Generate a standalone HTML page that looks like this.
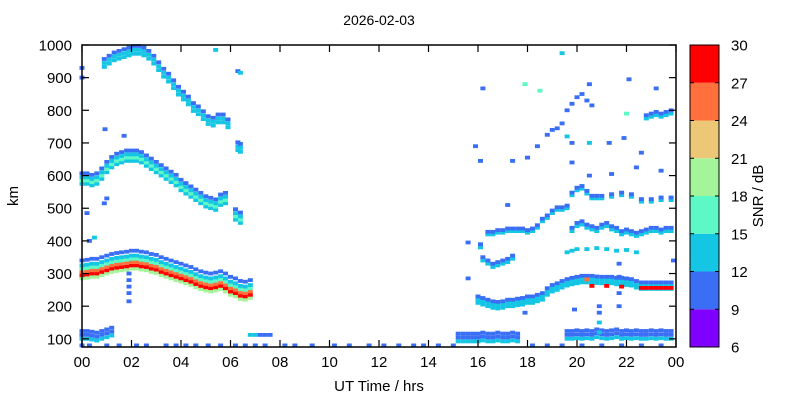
<!DOCTYPE html>
<html><head><meta charset="utf-8"><style>
html,body{margin:0;padding:0;background:#fff;}
svg{display:block;font-family:"Liberation Sans",sans-serif;}
</style></head><body>
<svg id="chart" width="800" height="400" viewBox="0 0 800 400" xmlns="http://www.w3.org/2000/svg">
<rect width="800" height="400" fill="#fff"/>
<text x="379" y="25" font-size="14" text-anchor="middle">2026-02-03</text>
<g id="cells"></g>
<g id="axes"></g>
<text x="379" y="391" font-size="15" text-anchor="middle">UT Time / hrs</text>
<text x="18" y="196" font-size="15" text-anchor="middle" transform="rotate(-90 18 196)">km</text>
<g id="cbar"></g>
<text x="763" y="196" font-size="15" text-anchor="middle" transform="rotate(-90 763 196)">SNR / dB</text>
</svg>
<script>
// ---- data ----
const xTickLabels = ["00","02","04","06","08","10","12","14","16","18","20","22","00"];
const yTicks = [100,200,300,400,500,600,700,800,900,1000];
const snrTicks = [6,9,12,15,18,21,24,27,30];
const snrColors = ["#7f00ff","#3a6ff5","#14c6e4","#5cf8c6","#a4f59a","#ecc776","#ff703c","#ff0000"];

const bandMainHours = [0,0.2,0.4,0.6,0.8,1.0,1.2,1.4,1.6,1.8,2.0,2.2,2.4,2.6,2.8,3.0,3.2,3.4,3.6,3.8,4.0,4.2,4.4,4.6,4.8,5.0,5.2,5.4,5.6,5.8,6.0,6.2,6.4,6.6,6.8];
const bandMainKm = [295,297,300,300,305,310,315,318,320,322,325,325,322,320,315,312,305,300,295,290,285,280,275,268,262,258,255,258,262,255,245,240,232,230,235];
const bandMainRows = [[-10,19],[0,28],[10,24],[20,16],[30,13],[45,10]];

const band2Hours = [0,0.2,0.4,0.6,0.8,1.0,1.2,1.4,1.6,1.8,2.0,2.2,2.4,2.6,2.8,3.0,3.2,3.4,3.6,3.8,4.0,4.2,4.4,4.6,4.8,5.0,5.2,5.4,5.6,5.8,6.2,6.4];
const band2Km = [585,585,580,585,600,620,635,645,650,655,655,655,650,640,630,620,610,600,590,580,565,555,545,535,525,515,510,505,520,525,475,465];
const band2Rows = [[-10,14],[0,17],[10,13],[22,10]];

const band3Hours = [0.9,1.1,1.3,1.5,1.7,1.9,2.1,2.3,2.5,2.7,2.9,3.1,3.3,3.5,3.7,3.9,4.1,4.3,4.5,4.7,4.9,5.1,5.3,5.5,5.7,5.9,6.3,6.4];
const band3Km = [945,955,965,970,975,980,985,985,980,970,955,935,915,900,880,860,845,830,810,800,785,770,765,775,775,760,690,685];
const band3Rows = [[-12,12],[0,14],[12,10]];

const bandNightFHours = [16.0,16.2,16.4,16.6,16.8,17.0,17.2,17.4,17.6,17.8,18.0,18.2,18.4,18.6,18.8,19.0,19.2,19.4,19.6,19.8,20.0,20.2,20.4,20.6,20.8,21.0,21.2,21.4,21.6,21.8,22.0,22.2,22.4,22.6,22.8,23.0,23.2,23.4,23.6,23.8];
const bandNightFKm = [215,210,205,200,198,200,205,205,208,210,215,215,220,225,240,250,255,262,268,272,275,278,278,278,276,275,275,275,272,272,270,268,262,258,258,258,258,258,258,258];
const bandNightFRows = [[-5,13],[5,12],[15,10]];

const bandEDayHours = [0,0.2,0.4,0.6,0.8,1.0,1.2];
const bandEDayKm = [100,100,98,95,100,105,110];
const bandEDayRows = [[0,14],[12,11],[24,10]];

const bandENightHours = [15.2,15.4,15.6,15.8,16.0,16.2,16.4,16.6,16.8,17.0,17.2,17.4,17.6,19.6,19.8,20.0,20.2,20.4,20.6,20.8,21.0,21.2,21.4,21.6,21.8,22.0,22.2,22.4,22.6,22.8,23.0,23.2,23.4,23.6,23.8];
const bandENightKm = [92,92,92,92,92,95,92,92,95,92,92,95,92,100,100,102,100,102,100,105,102,100,102,105,100,102,100,102,100,100,102,100,102,100,100];
const bandENightRows = [[0,12],[12,10],[24,10]];

const band420Hours = [16.4,16.6,16.8,17.0,17.2,17.4,17.6,17.8,18.0,18.2,18.4,18.6,18.8,19.0,19.2,19.4,19.6,19.8,20.0,20.2,20.4,20.6,20.8,21.0,21.4,21.8,22.2,22.6,23.0,23.4,23.8];
const band420Km = [420,420,425,425,430,430,430,430,425,430,440,460,470,485,495,495,500,540,555,560,545,530,530,530,535,540,535,520,520,525,525];
const band420Rows = [[0,13],[8,10]];

const band440Hours = [19.8,20.0,20.2,20.4,20.6,20.8,21.0,21.2,21.4,21.6,21.8,22.0,22.2,22.4,22.6,22.8,23.0,23.2,23.4,23.6,23.8];
const band440Km = [430,445,450,440,435,430,440,445,435,430,420,425,420,415,420,425,430,430,425,430,430];
const band440Rows = [[0,12],[10,10]];

const band370Hours = [19.6,19.8,20.0,20.4,20.8,21.2,21.6,22.0,22.4];
const band370Km = [365,370,375,375,378,375,370,372,365];
const band370Rows = [[0,12]];

const bandFanHours = [16.1,16.2,16.4,16.6,16.8,17.0,17.2,17.4];
const bandFanKm = [380,340,330,320,325,330,335,345];
const bandFanRows = [[0,13],[10,10]];

const bandUpperHours = [18.0,18.4,18.8,19.0,19.2,19.4,19.6,19.8,20.0,20.2,20.4,20.6];
const bandUpperKm = [655,690,725,740,745,760,800,820,840,850,830,815];
const bandUpperRows = [[0,11]];

const band780Hours = [22.8,23.0,23.2,23.4,23.6,23.8];
const band780Km = [775,780,785,780,785,790];
const band780Rows = [[0,13],[10,10]];

const baselineHours = [0,0.3,1.0,1.5,2.2,2.6,3.4,3.8,4.2,4.6,5.1,5.6,6.2,6.6,7.0,7.4,8.2,8.6,9.3,10.2,10.8,11.6,12.2,12.8,13.4,13.8,14.4,15.0,18.2,18.8,19.4,20.2,21.0,21.8,22.6,23.4];

const scatterEchoes = [
 [20.6,262,28],[21.2,262,28],[21.8,260,28],[22.6,256,28],[22.8,256,28],[23.0,256,28],[23.2,256,28],[23.4,256,28],[23.6,256,28],[23.8,256,28],[20.4,282,25],
 [6.8,112,13],[7.0,112,12],[7.2,112,10],[7.4,112,10],[7.6,112,10],
 [0.93,742,10],[1.7,722,10],[6.3,920,10],[6.4,915,12],[0.2,485,10],[0.9,515,10],[1.0,530,10],
 [1.9,300,10],[1.9,280,10],[1.9,260,10],[1.9,240,10],[1.9,215,10],[0.3,400,10],[0.5,410,12],[0.0,930,10],[0.0,900,10],[5.4,985,13],
 [19.4,975,13],[16.2,867,10],[17.9,880,16],[18.5,860,16],[22.1,895,10],[23.2,867,10],[20.5,880,10],
 [15.9,690,10],[16.1,645,10],[17.4,645,10],[19.8,640,10],[19.8,700,10],[20.5,700,12],[21.3,700,10],[21.9,715,10],
 [22.6,670,10],[23.4,615,10],[20.5,600,10],[21.4,605,10],[22.4,625,10],[17.2,510,10],[15.6,395,10],[15.6,285,10],
 [17.9,180,10],[19.9,190,10],[20.9,120,13],[20.9,150,12],[20.9,180,10],[20.9,200,10],
 [21.7,200,10],[21.7,240,10],[21.7,290,10],[21.7,330,10],[23.9,340,10],[22.0,790,16],[19.6,720,13]
];

// ---- scales ----
const X0=82, X1=676, Y0=347, Y1=45;
const KM0=75, KM1=1000;
function xs(h){return X0+h*(X1-X0)/24;}
function ys(km){return Y0-(km-KM0)*(Y0-Y1)/(KM1-KM0);}
function colorFor(s){let i=Math.floor((s-6)/3);if(i<0)i=0;if(i>7)i=7;return snrColors[i];}
const NS="http://www.w3.org/2000/svg";
const cells=document.getElementById('cells');
const CW=5, CH=3.8;
function cell(h,km,s){
  const r=document.createElementNS(NS,'rect');
  
  
  r.setAttribute('x',(xs(h)-CW/2).toFixed(1));
  r.setAttribute('y',(ys(km)-CH/2).toFixed(1));
  r.setAttribute('width',CW);r.setAttribute('height',CH);
  r.setAttribute('fill',colorFor(s));
  cells.appendChild(r);
}
function band(hours,kms,rows){
  for(let i=0;i<hours.length;i++){for(const rw of rows){cell(hours[i],kms[i]+rw[0],rw[1]);}}
}
band(bandMainHours,bandMainKm,bandMainRows);
band(band2Hours,band2Km,band2Rows);
band(band3Hours,band3Km,band3Rows);
band(bandNightFHours,bandNightFKm,bandNightFRows);
band(bandEDayHours,bandEDayKm,bandEDayRows);
band(bandENightHours,bandENightKm,bandENightRows);
band(band420Hours,band420Km,band420Rows);
band(band440Hours,band440Km,band440Rows);
band(band370Hours,band370Km,band370Rows);
band(bandFanHours,bandFanKm,bandFanRows);
band(bandUpperHours,bandUpperKm,bandUpperRows);
band(band780Hours,band780Km,band780Rows);
for(const h of baselineHours){cell(h,80,10);}
for(const e of scatterEchoes){cell(e[0],e[1],e[2]);}

// ---- axes ----
const axes=document.getElementById('axes');
function el(tag,attrs,txt){const e=document.createElementNS(NS,tag);for(const k in attrs)e.setAttribute(k,attrs[k]);if(txt!==undefined)e.textContent=txt;return e;}
const frame=el('rect',{x:X0,y:Y1,width:X1-X0,height:Y0-Y1,fill:'none',stroke:'#000','stroke-width':1.5});


axes.appendChild(frame);
xTickLabels.forEach((lab,i)=>{
  const x=xs(i*2);
  const t1=el('line',{x1:x,y1:Y0,x2:x,y2:Y0-7,stroke:'#000','stroke-width':1.2});
  
  
  axes.appendChild(t1);
  const t2=el('line',{x1:x,y1:Y1,x2:x,y2:Y1+7,stroke:'#000','stroke-width':1.2});
  
  
  axes.appendChild(t2);
  const t=el('text',{x:x,y:Y0+20,'font-size':15,'text-anchor':'middle'},lab);
  
  
  axes.appendChild(t);
});
yTicks.forEach(v=>{
  const y=ys(v);
  const t1=el('line',{x1:X0,y1:y,x2:X0+7,y2:y,stroke:'#000','stroke-width':1.2});
  
  
  axes.appendChild(t1);
  const t2=el('line',{x1:X1,y1:y,x2:X1-7,y2:y,stroke:'#000','stroke-width':1.2});
  
  
  axes.appendChild(t2);
  const t=el('text',{x:X0-10,y:y+5.5,'font-size':15,'text-anchor':'end'},String(v));
  
  
  axes.appendChild(t);
});

// ---- colorbar ----
const cb=document.getElementById('cbar');
const CBX=690, CBW=29, CBT=45, CBB=347;
function cby(s){return CBB-(s-6)*(CBB-CBT)/24;}
for(let i=0;i<8;i++){
  const r=el('rect',{x:CBX,y:cby(6+3*(i+1)),width:CBW,height:cby(6+3*i)-cby(6+3*(i+1)),fill:snrColors[i]});
  
  
  cb.appendChild(r);
}
const cbf=el('rect',{x:CBX,y:CBT,width:CBW,height:CBB-CBT,fill:'none',stroke:'#000','stroke-width':1});


cb.appendChild(cbf);
snrTicks.forEach(s=>{
  const y=cby(s);
  const l=el('line',{x1:CBX,y1:y,x2:CBX+4,y2:y,stroke:'#000'});
  
  
  cb.appendChild(l);
  const l2=el('line',{x1:CBX+CBW,y1:y,x2:CBX+CBW-4,y2:y,stroke:'#000'});
  
  
  cb.appendChild(l2);
  const t=el('text',{x:731,y:y+5.5,'font-size':15},String(s));
  
  
  cb.appendChild(t);
});
</script>
</body></html>
